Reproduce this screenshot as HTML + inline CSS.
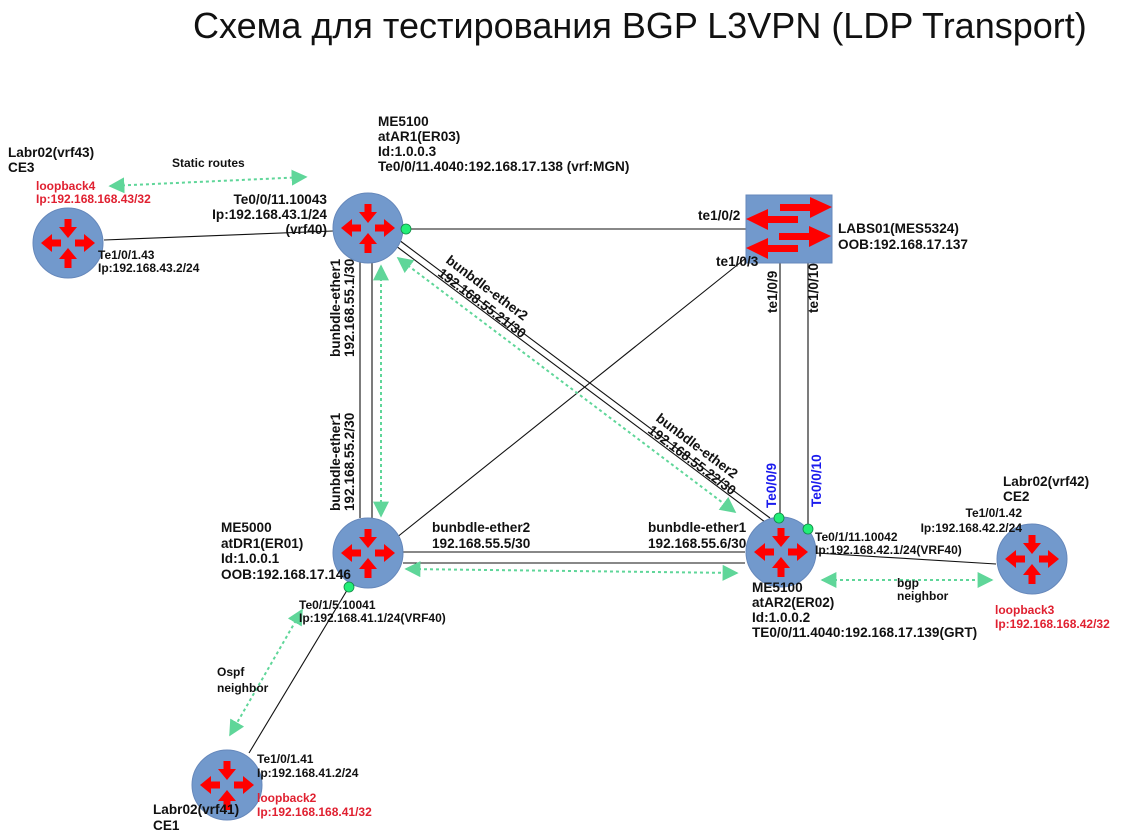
<!DOCTYPE html>
<html><head><meta charset="utf-8"><style>
body{margin:0;background:#fff;}
svg{display:block;font-family:"Liberation Sans","DejaVu Sans",sans-serif;}
.b{font-weight:bold;font-size:13.6px;fill:#111;}
.s{font-weight:bold;font-size:12px;fill:#111;}
.r{font-weight:bold;font-size:12px;fill:#e02030;}
.bl{font-weight:bold;font-size:13.6px;fill:#1a1aee;}
</style></head><body>
<svg width="1124" height="840" viewBox="0 0 1124 840" xmlns="http://www.w3.org/2000/svg">
<defs>
<g id="rt">
<circle r="35" fill="#7299cc" stroke="#6688bb" stroke-width="1"/>
<g fill="#ff0000">
<rect x="-3.5" y="-24" width="7" height="8"/><polygon points="-9,-16 9,-16 0,-5"/>
<rect x="-3.5" y="16" width="7" height="9"/><polygon points="-9,16 9,16 0,5"/>
<rect x="-16" y="-3.5" width="9" height="7"/><polygon points="-16,-9 -16,9 -27,0"/>
<rect x="7" y="-3.5" width="9" height="7"/><polygon points="16,-9 16,9 27,0"/>
</g>
</g>
<marker id="ga" viewBox="0 0 10 10" refX="9" refY="5" markerWidth="16" markerHeight="16" markerUnits="userSpaceOnUse" orient="auto-start-reverse"><polygon points="0,0 10,5 0,10" fill="#5fd699"/></marker>
</defs>
<text x="193" y="38" font-size="36" fill="#111">Схема для тестирования BGP L3VPN (LDP Transport)</text>

<g stroke="#111" stroke-width="1.1" fill="none">
<line x1="104" y1="240" x2="333" y2="231"/>
<line x1="405" y1="229" x2="746" y2="229"/>
<line x1="360" y1="262" x2="360" y2="518"/>
<line x1="372" y1="263" x2="372" y2="518"/>
<line x1="396" y1="246" x2="765" y2="522"/>
<line x1="399" y1="240" x2="770" y2="518"/>
<line x1="746" y1="258" x2="396" y2="538"/>
<line x1="780" y1="263" x2="780" y2="516"/>
<line x1="808" y1="263" x2="808" y2="524"/>
<line x1="403" y1="552" x2="745" y2="552"/>
<line x1="403" y1="563" x2="745" y2="563"/>
<line x1="816" y1="553" x2="996" y2="564"/>
<line x1="349" y1="587" x2="249" y2="753"/>
</g>
<g stroke="#5fd699" stroke-width="2" stroke-dasharray="3,3" fill="none" marker-start="url(#ga)" marker-end="url(#ga)">
<line x1="110" y1="186" x2="306" y2="177"/>
<line x1="381" y1="266" x2="381" y2="516"/>
<line x1="398" y1="258" x2="735" y2="512"/>
<line x1="406" y1="569" x2="737" y2="573"/>
<line x1="822" y1="580" x2="992" y2="580"/>
<line x1="302" y1="610" x2="230" y2="735"/>
</g>

<use href="#rt" x="368" y="228"/>
<use href="#rt" x="368" y="553"/>
<use href="#rt" x="781" y="552"/>
<use href="#rt" x="68" y="243"/>
<use href="#rt" x="1032" y="559"/>
<use href="#rt" x="227" y="785"/>

<rect x="746" y="195" width="86" height="68" fill="#7299cc" stroke="#6688bb"/>
<g fill="#ff0000">
<rect x="780" y="204" width="30" height="7"/><polygon points="810,197 810,218 832,207"/>
<rect x="768" y="216" width="30" height="7"/><polygon points="768,209 768,230 746,219"/>
<rect x="779" y="233" width="30" height="7"/><polygon points="809,226 809,247 831,236"/>
<rect x="768" y="245" width="30" height="7"/><polygon points="768,238 768,259 746,248"/>
</g>

<g fill="#22ee77" stroke="#118844" stroke-width="0.8">
<circle cx="406" cy="229" r="5"/>
<circle cx="349" cy="587" r="5"/>
<circle cx="779" cy="518" r="5"/>
<circle cx="808" cy="529" r="5"/>
</g>

<text class="b" x="378" y="126">ME5100</text>
<text class="b" x="378" y="141">atAR1(ER03)</text>
<text class="b" x="378" y="156">Id:1.0.0.3</text>
<text class="b" x="378" y="171">Te0/0/11.4040:192.168.17.138 (vrf:MGN)</text>

<text class="b" x="8" y="157">Labr02(vrf43)</text>
<text class="b" x="8" y="172">CE3</text>
<text class="s" x="172" y="167">Static routes</text>
<text class="r" x="36" y="190">loopback4</text>
<text class="r" x="36" y="203">Ip:192.168.168.43/32</text>
<text class="b" x="327" y="204" text-anchor="end">Te0/0/11.10043</text>
<text class="b" x="327" y="219" text-anchor="end">Ip:192.168.43.1/24</text>
<text class="b" x="327" y="234" text-anchor="end">(vrf40)</text>
<text class="s" x="98" y="259">Te1/0/1.43</text>
<text class="s" x="98" y="272">Ip:192.168.43.2/24</text>

<text class="b" x="698" y="220">te1/0/2</text>
<text class="b" x="716" y="266">te1/0/3</text>
<text class="b" x="838" y="233">LABS01(MES5324)</text>
<text class="b" x="838" y="249">OOB:192.168.17.137</text>
<text class="b" transform="translate(777,313) rotate(-90)">te1/0/9</text>
<text class="b" transform="translate(818,313) rotate(-90)">te1/0/10</text>

<text class="b" transform="translate(340,357) rotate(-90)">bunbdle-ether1</text>
<text class="b" transform="translate(354,357) rotate(-90)">192.168.55.1/30</text>
<text class="b" transform="translate(340,511) rotate(-90)">bunbdle-ether1</text>
<text class="b" transform="translate(354,511) rotate(-90)">192.168.55.2/30</text>

<text class="b" transform="translate(445,262) rotate(37)">bunbdle-ether2</text>
<text class="b" transform="translate(437,275) rotate(37)">192.168.55.21/30</text>
<text class="b" transform="translate(655,420) rotate(37)">bunbdle-ether2</text>
<text class="b" transform="translate(647,432) rotate(37)">192.168.55.22/30</text>

<text class="bl" transform="translate(776,508) rotate(-90)">Te0/0/9</text>
<text class="bl" transform="translate(821,507) rotate(-90)">Te0/0/10</text>

<text class="b" x="221" y="532">ME5000</text>
<text class="b" x="221" y="548">atDR1(ER01)</text>
<text class="b" x="221" y="563">Id:1.0.0.1</text>
<text class="b" x="221" y="579">OOB:192.168.17.146</text>
<text class="b" x="432" y="532">bunbdle-ether2</text>
<text class="b" x="432" y="548">192.168.55.5/30</text>
<text class="b" x="648" y="532">bunbdle-ether1</text>
<text class="b" x="648" y="548">192.168.55.6/30</text>

<text class="s" x="815" y="541">Te0/1/11.10042</text>
<text class="s" x="815" y="554">Ip:192.168.42.1/24(VRF40)</text>
<text class="b" x="752" y="592">ME5100</text>
<text class="b" x="752" y="607">atAR2(ER02)</text>
<text class="b" x="752" y="622">Id:1.0.0.2</text>
<text class="b" x="752" y="637">TE0/0/11.4040:192.168.17.139(GRT)</text>
<text class="s" x="897" y="587">bgp</text>
<text class="s" x="897" y="600">neighbor</text>

<text class="b" x="1003" y="486">Labr02(vrf42)</text>
<text class="b" x="1003" y="501">CE2</text>
<text class="s" x="1022" y="517" text-anchor="end">Te1/0/1.42</text>
<text class="s" x="1022" y="532" text-anchor="end">Ip:192.168.42.2/24</text>
<text class="r" x="995" y="614">loopback3</text>
<text class="r" x="995" y="628">Ip:192.168.168.42/32</text>

<text class="s" x="299" y="609">Te0/1/5.10041</text>
<text class="s" x="299" y="622">Ip:192.168.41.1/24(VRF40)</text>
<text class="s" x="217" y="676">Ospf</text>
<text class="s" x="217" y="692">neighbor</text>
<text class="s" x="257" y="763">Te1/0/1.41</text>
<text class="s" x="257" y="777">Ip:192.168.41.2/24</text>
<text class="r" x="257" y="802">loopback2</text>
<text class="r" x="257" y="816">Ip:192.168.168.41/32</text>
<text class="b" x="153" y="814">Labr02(vrf41)</text>
<text class="b" x="153" y="830">CE1</text>
</svg>
</body></html>
